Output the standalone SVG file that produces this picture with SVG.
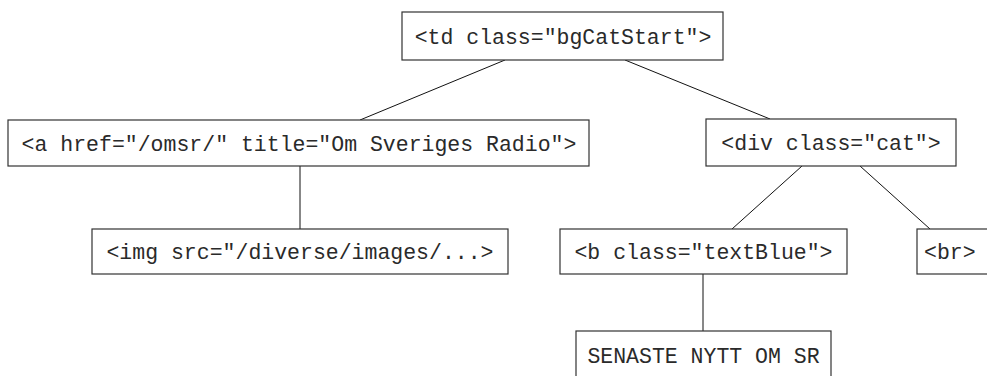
<svg xmlns="http://www.w3.org/2000/svg" width="987" height="376" viewBox="0 0 987 376">
  <style>
    .box { fill: #ffffff; stroke: #333333; stroke-width: 1.2; }
    .lbl { font-family: "Liberation Mono", "Courier New", monospace; font-size: 21.5px; fill: #2a2a2a; text-anchor: middle; }
    .edge { stroke: #111111; stroke-width: 1; fill: none; }
  </style>
  <rect width="987" height="376" fill="#ffffff"/>
  <g id="connectors">
    <line class="edge" x1="505" y1="60" x2="360" y2="120"/>
    <line class="edge" x1="625" y1="60" x2="770" y2="119"/>
    <line class="edge" x1="300" y1="166" x2="300" y2="229"/>
    <line class="edge" x1="802" y1="166" x2="732" y2="229"/>
    <line class="edge" x1="860" y1="166" x2="930" y2="229"/>
    <line class="edge" x1="703" y1="274" x2="703" y2="331"/>
  </g>
  <g id="td">
    <rect class="box" x="402" y="12" width="321" height="48"/>
    <text class="lbl" x="563" y="43.5">&lt;td class="bgCatStart"&gt;</text>
  </g>
  <g id="a">
    <rect class="box" x="8" y="120" width="581" height="46"/>
    <text class="lbl" x="299" y="150.5">&lt;a href="/omsr/" title="Om Sveriges Radio"&gt;</text>
  </g>
  <g id="div">
    <rect class="box" x="706" y="119" width="250" height="47"/>
    <text class="lbl" x="831" y="150">&lt;div class="cat"&gt;</text>
  </g>
  <g id="img">
    <rect class="box" x="92" y="229" width="416" height="45"/>
    <text class="lbl" x="300" y="259">&lt;img src="/diverse/images/...&gt;</text>
  </g>
  <g id="b">
    <rect class="box" x="560" y="229" width="287" height="45"/>
    <text class="lbl" x="703.5" y="259">&lt;b class="textBlue"&gt;</text>
  </g>
  <g id="br">
    <rect class="box" x="917" y="229" width="90" height="45"/>
    <text class="lbl" x="924" y="259" style="text-anchor:start">&lt;br&gt;</text>
  </g>
  <g id="text-node">
    <rect class="box" x="576" y="331" width="255" height="60"/>
    <text class="lbl" x="703.5" y="363">SENASTE NYTT OM SR</text>
  </g>
</svg>
